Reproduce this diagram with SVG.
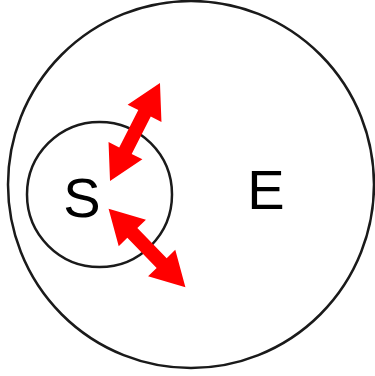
<svg xmlns="http://www.w3.org/2000/svg" xmlns:xlink="http://www.w3.org/1999/xlink" width="375" height="376" viewBox="0 0 375 376">
<style>
.ring{fill:none;stroke:#1a1a1a;stroke-width:2.5}
.lbl{font-family:"Liberation Sans",Arial,sans-serif;font-size:56px;fill:#000;text-anchor:middle}
.arr{fill:#ff0000}
</style>
<defs>
<polygon id="dbl" class="arr" points="-55,0 -21,-19 -21,-7 21,-7 21,-19 55,0 21,19 21,7 -21,7 -21,19"/>
</defs>
<rect width="375" height="376" fill="#fff"/>
<g id="E">
<ellipse class="ring" cx="191" cy="184.5" rx="183" ry="183.5"/>
<text class="lbl" x="266" y="209">E</text>
</g>
<g id="S">
<circle class="ring" cx="99.5" cy="194.5" r="72.5"/>
<text class="lbl" x="82" y="217">S</text>
</g>
<g id="connectors">
<use xlink:href="#dbl" transform="translate(135,132) rotate(-63)"/>
<use xlink:href="#dbl" transform="translate(147,248) rotate(45.7)"/>
</g>
</svg>
